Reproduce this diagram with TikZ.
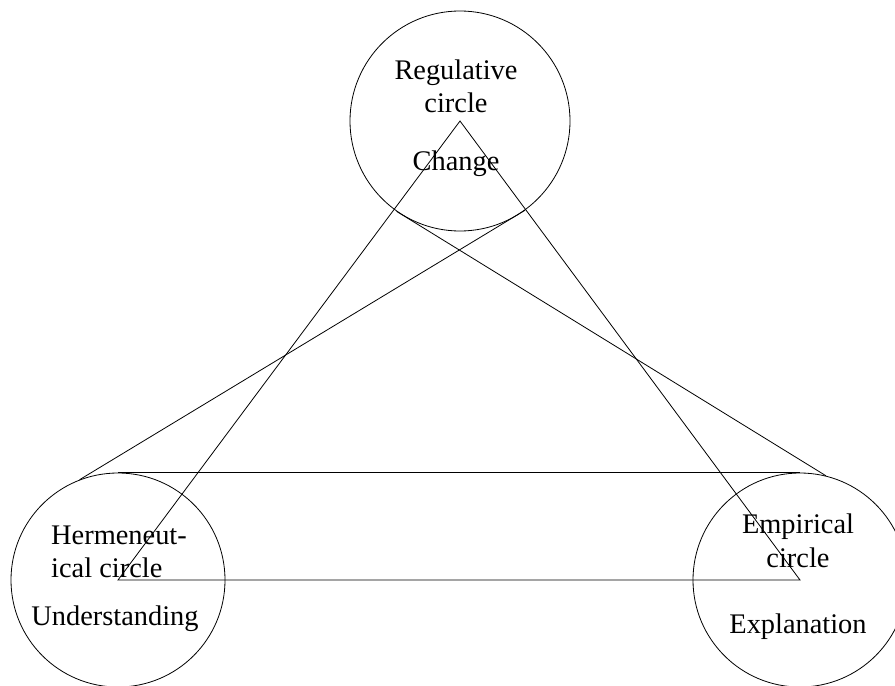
\documentclass[tikz,border=0pt]{standalone}
\usepackage{fontspec}
\setmainfont{Liberation Serif}
\begin{document}
\begin{tikzpicture}[x=1bp,y=-1bp,
  ring/.style={circle,draw,line width=0.8bp,inner sep=0pt},
  link/.style={line width=0.8bp},
  lbl/.style={inner sep=0pt,font=\fontsize{28.5}{34}\selectfont}]
\useasboundingbox (0,0) rectangle (895,686);
\clip (0,0) rectangle (895,686);
\fill[white] (0,0) rectangle (895,686);
% circles
\node[ring,minimum size=220bp] (top) at (460,121) {};
\node[ring,minimum size=214bp] (left) at (118,580) {};
\node[ring,minimum size=214bp] (right) at (800,580) {};
% triangle between centres
\draw[link] (top.center) -- (left.center) -- (right.center) -- cycle;
% tangent-like lines
\draw[link] (left.90) -- (right.90);
\draw[link] (top.235) -- (right.76);
\draw[link] (top.306) -- (left.111);
% labels
\node[lbl,anchor=base] (t1) at (456,80) {Regulative};
\node[lbl,anchor=base] (t2) at (456,113) {circle};
\node[lbl,anchor=base] (t3) at (456,171) {Change};
\node[lbl,anchor=base west] (l1) at (51,544) {Hermeneut-};
\node[lbl,anchor=base west] (l2) at (51,577) {ical circle};
\node[lbl,anchor=base] (l3) at (115,625) {Understanding};
\node[lbl,anchor=base] (r1) at (798,533) {Empirical};
\node[lbl,anchor=base] (r2) at (798,567) {circle};
\node[lbl,anchor=base] (r3) at (798,633) {Explanation};
\end{tikzpicture}
\end{document}
